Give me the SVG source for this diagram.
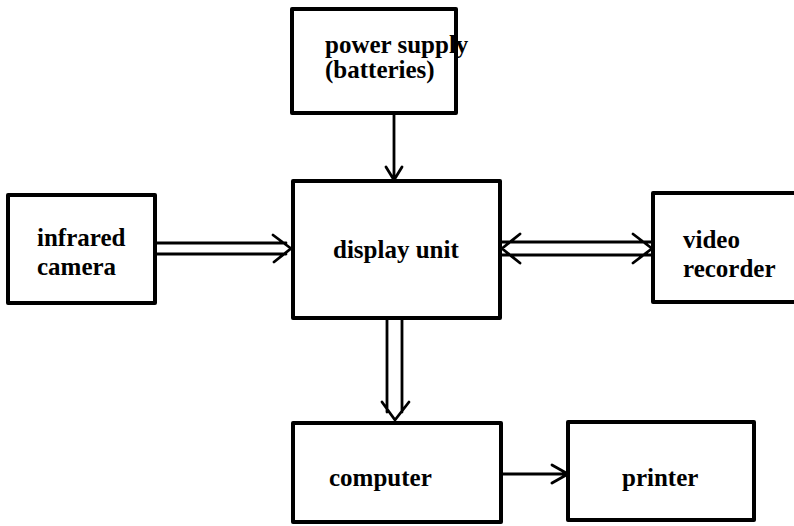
<svg xmlns="http://www.w3.org/2000/svg" width="794" height="526" viewBox="0 0 794 526">
<style>
.box{fill:#fff;stroke:#000;stroke-width:4;stroke-linejoin:round}
.t{font-family:"Liberation Serif","Times New Roman",serif;font-weight:bold;font-size:25px;fill:#000}
.c{fill:none;stroke:#000;stroke-width:2.8;stroke-linecap:round;stroke-linejoin:round}
</style>
<rect width="794" height="526" fill="#fff"/>
<g id="connectors">
<path class="c" d="M394 113V180M386 167L394 180L402 167"/>
<path class="c" d="M156 243H286M156 254H286M273 235L291 248.5L274 262"/>
<path class="c" d="M502 242H651M502 255H651M520 234L502 248.5L520 263M633 234L652 248.5L633 263"/>
<path class="c" d="M387 318V412M402 318V412M382 402L395 420L409 402"/>
<path class="c" d="M501 474H566M552 465L568 474L552 483"/>
</g>
<g id="power"><rect class="box" x="292" y="9" width="164" height="104"/><text class="t" x="325" y="53">power supply</text><text class="t" x="325" y="78">(batteries)</text></g>
<g id="camera"><rect class="box" x="8" y="195" width="147" height="108"/><text class="t" x="37" y="246">infrared</text><text class="t" x="37" y="275">camera</text></g>
<g id="display"><rect class="box" x="293" y="181" width="207" height="137"/><text class="t" x="333" y="258">display unit</text></g>
<g id="video"><rect class="box" x="653" y="193" width="160" height="109"/><text class="t" x="683" y="248">video</text><text class="t" x="683" y="277">recorder</text></g>
<g id="computer"><rect class="box" x="293" y="423" width="208" height="99"/><text class="t" x="329" y="486">computer</text></g>
<g id="printer"><rect class="box" x="568" y="422" width="186" height="98"/><text class="t" x="622" y="486">printer</text></g>
</svg>
